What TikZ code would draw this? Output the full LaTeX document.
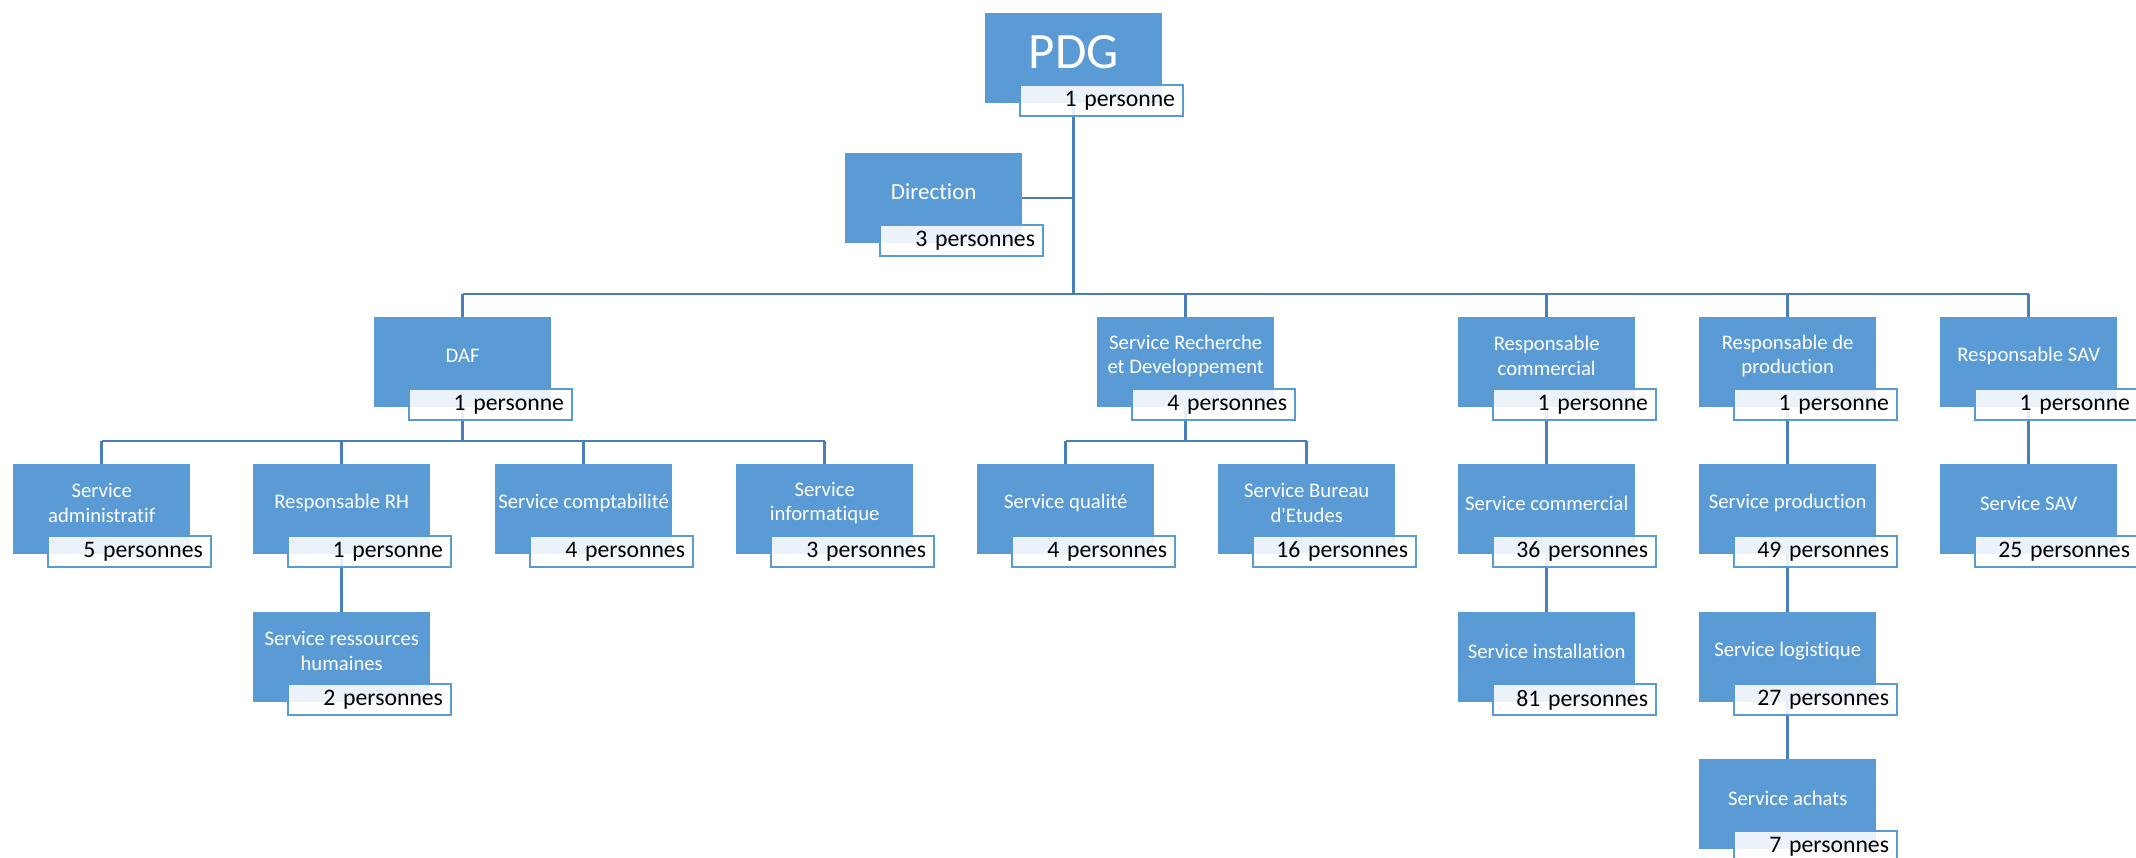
\documentclass[tikz,border=0pt]{standalone}
\usepackage{fontspec}
\setmainfont{Carlito}[Ligatures={TeXOff,NoCommon}]
\usetikzlibrary{calc,backgrounds}
\definecolor{boxblue}{HTML}{5B9BD5}
\definecolor{linkblue}{HTML}{4A7EBB}
\tikzset{
 mainbox/.style={fill=boxblue, minimum width=177pt, minimum height=90pt, inner sep=0pt, anchor=north west},
 lbl/.style={text=white, align=center, font=\fontsize{20.7}{24.5}\selectfont, inner sep=0pt},
 cnt/.style={fill=white, fill opacity=0.88, text opacity=1, draw=boxblue, line width=2pt,
   minimum width=163pt, minimum height=31pt, text width=147pt, align=right,
   inner xsep=8pt, inner ysep=0pt, anchor=north west, font=\fontsize{23.7}{28}\selectfont},
 conn/.style={draw=linkblue, line width=2.5pt},
}
\newcommand\orgunit[6]{%
  \node[mainbox] (#1) at (#2,#3) {};
  \node[lbl,#6] (#1t) at ($(#1.north)+(0,39)$) {#4};
  \node[cnt] (#1s) at ($(#1.south west)+(34,-19)$) {#5};
}
\begin{document}
\begin{tikzpicture}[x=1pt,y=-1pt]
\useasboundingbox (0,0) rectangle (2136,858);
\orgunit{pdg}{985}{13}{PDG}{1 personne}{font=\fontsize{51}{55}\selectfont}
\orgunit{dir}{845}{153}{Direction}{3 personnes}{font=\fontsize{23}{27}\selectfont}
\orgunit{daf}{374}{317}{DAF}{1 personne}{}
\orgunit{rd}{1097}{317}{Service Recherche\\et Developpement}{4 personnes}{}
\orgunit{rc}{1458}{317}{Responsable\\commercial}{1 personne}{}
\orgunit{rp}{1699}{317}{Responsable de\\production}{1 personne}{}
\orgunit{rsav}{1940}{317}{Responsable SAV}{1 personne}{}
\orgunit{adm}{13}{464}{Service\\administratif}{5 personnes}{}
\orgunit{rh}{253}{464}{Responsable RH}{1 personne}{}
\orgunit{compta}{495}{464}{Service comptabilité}{4 personnes}{}
\orgunit{info}{736}{464}{Service\\informatique}{3 personnes}{}
\orgunit{qual}{977}{464}{Service qualité}{4 personnes}{}
\orgunit{bur}{1218}{464}{Service Bureau\\d'Etudes}{16 personnes}{}
\orgunit{scom}{1458}{464}{Service commercial}{36 personnes}{}
\orgunit{sprod}{1699}{464}{Service production}{49 personnes}{}
\orgunit{ssav}{1940}{464}{Service SAV}{25 personnes}{}
\orgunit{srh}{253}{612}{Service ressources\\humaines}{2 personnes}{}
\orgunit{sinst}{1458}{612}{Service installation}{81 personnes}{}
\orgunit{slog}{1699}{612}{Service logistique}{27 personnes}{}
\orgunit{sach}{1699}{759}{Service achats}{7 personnes}{}
\coordinate (b0) at (0,294);
\coordinate (b1) at (0,441);
\begin{scope}[on background layer]
\fill[white] (0,0) rectangle (2136,858);
% PDG and Direction
\draw[conn] (pdg.center) -- (pdg.center |- b0);
\draw[conn] (dir.center) -- (pdg.center |- dir.center);
% main bus
\draw[conn] (daf.center |- b0) -- (rsav.center |- b0);
\foreach \n in {daf,rd,rc,rp,rsav} \draw[conn] (\n.center |- b0) -- (\n.north);
% DAF bus
\draw[conn] (daf.center) -- (daf.center |- b1);
\draw[conn] (adm.center |- b1) -- (info.center |- b1);
\foreach \n in {adm,rh,compta,info} \draw[conn] (\n.center |- b1) -- (\n.north);
% R&D bus
\draw[conn] (rd.center) -- (rd.center |- b1);
\draw[conn] (qual.center |- b1) -- (bur.center |- b1);
\foreach \n in {qual,bur} \draw[conn] (\n.center |- b1) -- (\n.north);
% chains
\draw[conn] (rh.center) -- (srh.north);
\draw[conn] (rc.center) -- (scom.north);
\draw[conn] (scom.center) -- (sinst.north);
\draw[conn] (rp.center) -- (sprod.north);
\draw[conn] (sprod.center) -- (slog.north);
\draw[conn] (slog.center) -- (sach.north);
\draw[conn] (rsav.center) -- (ssav.north);
\end{scope}
\end{tikzpicture}
\end{document}
